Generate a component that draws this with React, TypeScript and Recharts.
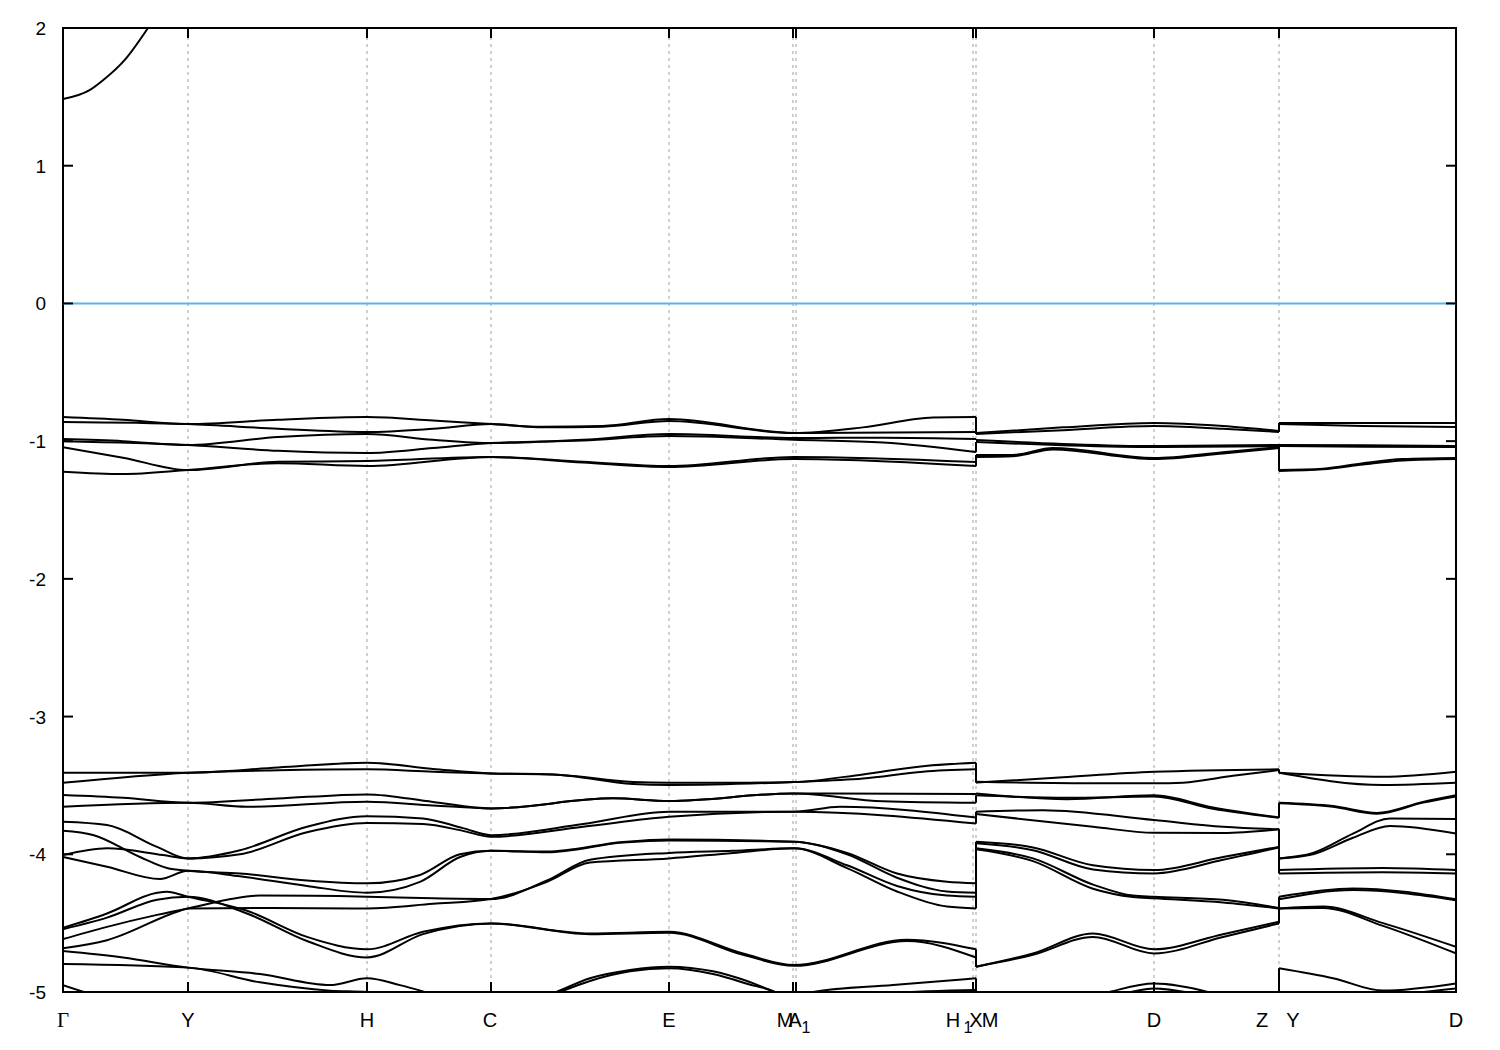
import { LineChart, Line, XAxis, YAxis, ReferenceLine, ReferenceArea } from 'recharts';

type Pt = [number, number];

// k-path (high symmetry points) and labels
const TICK_K = [0, 0.125, 0.304, 0.428, 0.606, 0.73, 0.733, 0.91, 0.913, 1.091, 1.216, 1.393];
const TICK_LABELS = ['Γ', 'Y', 'H', 'C', 'E', 'M_1', 'A', 'X', 'H_1|M', 'D', 'Z|Y', 'D'];
const Y_TICKS = [-5, -4, -3, -2, -1, 0, 1, 2];
const K_MAX = 1.393;

// conduction band near Γ
const conduction: Pt[][] = [
  [[0, 1.484], [0.027, 1.55], [0.04, 1.62], [0.062, 1.77], [0.085, 2.0]],
];

// block Γ–Y–H–C–E–M1–A–X–H1
const topA: Pt[][] = [
  [[0, -0.825], [0.06, -0.845], [0.125, -0.876], [0.215, -0.845], [0.304, -0.825], [0.37, -0.85], [0.428, -0.876], [0.48, -0.895], [0.54, -0.89], [0.606, -0.84], [0.731, -0.941], [0.8, -0.9], [0.87, -0.828], [0.913, -0.825]],
  [[0, -0.861], [0.125, -0.876], [0.215, -0.91], [0.304, -0.933], [0.37, -0.91], [0.428, -0.876], [0.48, -0.9], [0.54, -0.895], [0.606, -0.854], [0.731, -0.941], [0.913, -0.933]],
  [[0, -0.985], [0.06, -1.0], [0.125, -1.028], [0.215, -0.97], [0.304, -0.948], [0.37, -0.99], [0.428, -1.014], [0.52, -0.99], [0.606, -0.948], [0.731, -0.977], [0.82, -0.975], [0.913, -0.985]],
  [[0, -1.0], [0.125, -1.028], [0.215, -1.07], [0.304, -1.086], [0.37, -1.05], [0.428, -1.014], [0.52, -0.995], [0.606, -0.963], [0.731, -0.99], [0.82, -1.01], [0.913, -1.079]],
  [[0, -1.045], [0.06, -1.12], [0.125, -1.21], [0.215, -1.15], [0.304, -1.144], [0.428, -1.115], [0.52, -1.15], [0.606, -1.181], [0.731, -1.115], [0.913, -1.152]],
  [[0, -1.222], [0.06, -1.239], [0.125, -1.21], [0.215, -1.16], [0.304, -1.181], [0.428, -1.115], [0.52, -1.155], [0.606, -1.188], [0.731, -1.13], [0.913, -1.181]],
];

const lowA: Pt[][] = [
  [[0, -3.408], [0.125, -3.408], [0.215, -3.37], [0.304, -3.335], [0.37, -3.38], [0.428, -3.413], [0.49, -3.42], [0.57, -3.475], [0.606, -3.481], [0.67, -3.48], [0.731, -3.475], [0.8, -3.42], [0.86, -3.36], [0.913, -3.335]],
  [[0, -3.481], [0.125, -3.408], [0.215, -3.39], [0.304, -3.383], [0.37, -3.4], [0.428, -3.413], [0.49, -3.42], [0.57, -3.49], [0.606, -3.497], [0.731, -3.475], [0.8, -3.45], [0.86, -3.4], [0.913, -3.383]],
  [[0, -3.57], [0.06, -3.59], [0.125, -3.626], [0.215, -3.595], [0.304, -3.565], [0.37, -3.62], [0.428, -3.667], [0.55, -3.594], [0.606, -3.613], [0.731, -3.558], [0.913, -3.563]],
  [[0, -3.655], [0.125, -3.626], [0.184, -3.655], [0.304, -3.619], [0.37, -3.645], [0.428, -3.667], [0.55, -3.594], [0.606, -3.613], [0.731, -3.558], [0.82, -3.615], [0.913, -3.626]],
  [[0, -3.764], [0.044, -3.788], [0.094, -3.946], [0.125, -4.03], [0.177, -3.97], [0.244, -3.8], [0.304, -3.723], [0.36, -3.74], [0.4, -3.81], [0.428, -3.861], [0.52, -3.78], [0.606, -3.691], [0.731, -3.691], [0.777, -3.655], [0.913, -3.733]],
  [[0, -4.006], [0.044, -3.957], [0.1, -4.006], [0.125, -4.03], [0.177, -4.0], [0.244, -3.84], [0.304, -3.773], [0.36, -3.78], [0.4, -3.83], [0.428, -3.873], [0.52, -3.8], [0.606, -3.728], [0.731, -3.691], [0.913, -3.776]],
  [[0, -3.829], [0.03, -3.86], [0.077, -4.02], [0.104, -4.1], [0.125, -4.12], [0.177, -4.14], [0.244, -4.19], [0.304, -4.211], [0.357, -4.15], [0.397, -4.0], [0.428, -3.975], [0.484, -3.98], [0.56, -3.91], [0.606, -3.892], [0.731, -3.909], [0.784, -3.99], [0.834, -4.14], [0.884, -4.2], [0.913, -4.211]],
  [[0, -4.02], [0.044, -4.09], [0.097, -4.18], [0.125, -4.12], [0.177, -4.16], [0.244, -4.23], [0.304, -4.279], [0.357, -4.2], [0.397, -4.02], [0.428, -3.975], [0.484, -3.985], [0.56, -3.915], [0.606, -3.9], [0.731, -3.909], [0.784, -4.0], [0.834, -4.17], [0.884, -4.27], [0.913, -4.279]],
  [[0, -4.616], [0.044, -4.527], [0.094, -4.44], [0.125, -4.393], [0.197, -4.3], [0.304, -4.308], [0.37, -4.32], [0.428, -4.325], [0.484, -4.19], [0.527, -4.04], [0.606, -3.99], [0.67, -3.975], [0.731, -3.957], [0.784, -4.08], [0.834, -4.23], [0.884, -4.3], [0.913, -4.308]],
  [[0, -4.683], [0.044, -4.624], [0.117, -4.41], [0.125, -4.393], [0.197, -4.39], [0.304, -4.393], [0.37, -4.36], [0.428, -4.325], [0.484, -4.2], [0.527, -4.06], [0.606, -4.03], [0.67, -3.99], [0.731, -3.957], [0.784, -4.1], [0.834, -4.27], [0.884, -4.38], [0.913, -4.393]],
  [[0, -4.534], [0.044, -4.43], [0.094, -4.28], [0.104, -4.272], [0.125, -4.308], [0.184, -4.41], [0.244, -4.6], [0.304, -4.69], [0.36, -4.563], [0.428, -4.502], [0.527, -4.575], [0.606, -4.563], [0.68, -4.72], [0.731, -4.804], [0.844, -4.62], [0.913, -4.69]],
  [[0, -4.544], [0.044, -4.46], [0.094, -4.33], [0.125, -4.308], [0.184, -4.43], [0.244, -4.63], [0.304, -4.749], [0.36, -4.58], [0.428, -4.502], [0.527, -4.58], [0.606, -4.57], [0.68, -4.73], [0.731, -4.81], [0.844, -4.63], [0.913, -4.749]],
  [[0, -4.703], [0.06, -4.75], [0.125, -4.823], [0.197, -4.87], [0.267, -4.95], [0.304, -4.9], [0.337, -4.95], [0.367, -5.01], [0.428, -5.15], [0.49, -5.01], [0.527, -4.9], [0.567, -4.84], [0.606, -4.816], [0.65, -4.85], [0.684, -4.92], [0.717, -5.01], [0.731, -5.03], [0.75, -5.0], [0.83, -4.95], [0.913, -4.9]],
  [[0, -4.797], [0.125, -4.823], [0.197, -4.93], [0.267, -4.99], [0.304, -5.0], [0.36, -5.05], [0.428, -5.2], [0.49, -5.02], [0.527, -4.92], [0.567, -4.85], [0.606, -4.828], [0.65, -4.87], [0.684, -4.94], [0.717, -5.02], [0.731, -5.1], [0.8, -5.02], [0.913, -4.985]],
  [[0, -4.95], [0.03, -5.02], [0.125, -5.2]],
];

// block M–D–Z
const topB: Pt[][] = [
  [[0.913, -0.941], [1.0, -0.9], [1.091, -0.868], [1.16, -0.89], [1.216, -0.926]],
  [[0.913, -0.948], [1.0, -0.92], [1.091, -0.89], [1.16, -0.91], [1.216, -0.933]],
  [[0.913, -0.992], [1.0, -1.02], [1.091, -1.036], [1.216, -1.028]],
  [[0.913, -1.007], [1.0, -1.03], [1.091, -1.043], [1.216, -1.036]],
  [[0.913, -1.101], [0.95, -1.1], [0.99, -1.05], [1.091, -1.122], [1.16, -1.08], [1.216, -1.043]],
  [[0.913, -1.115], [0.95, -1.11], [0.99, -1.06], [1.091, -1.13], [1.16, -1.09], [1.216, -1.05]],
];

const lowB: Pt[][] = [
  [[0.913, -3.48], [1.0, -3.44], [1.091, -3.401], [1.216, -3.383]],
  [[0.913, -3.474], [1.037, -3.485], [1.091, -3.485], [1.12, -3.48], [1.17, -3.43], [1.216, -3.388]],
  [[0.913, -3.558], [1.004, -3.6], [1.091, -3.572], [1.15, -3.66], [1.216, -3.732]],
  [[0.913, -3.572], [1.004, -3.59], [1.091, -3.58], [1.15, -3.67], [1.216, -3.735]],
  [[0.913, -3.691], [0.98, -3.68], [1.091, -3.751], [1.16, -3.8], [1.216, -3.819]],
  [[0.913, -3.708], [1.03, -3.8], [1.091, -3.844], [1.16, -3.845], [1.216, -3.819]],
  [[0.913, -3.909], [0.97, -3.95], [1.03, -4.08], [1.091, -4.115], [1.16, -4.02], [1.216, -3.946]],
  [[0.913, -3.92], [0.97, -3.97], [1.03, -4.11], [1.091, -4.139], [1.16, -4.04], [1.216, -3.95]],
  [[0.913, -3.957], [0.97, -4.03], [1.03, -4.22], [1.07, -4.3], [1.091, -4.308], [1.16, -4.33], [1.216, -4.39]],
  [[0.913, -3.964], [0.97, -4.05], [1.03, -4.25], [1.07, -4.31], [1.091, -4.32], [1.16, -4.35], [1.216, -4.393]],
  [[0.913, -4.816], [0.97, -4.72], [1.03, -4.575], [1.091, -4.69], [1.16, -4.58], [1.216, -4.49]],
  [[0.913, -4.816], [0.97, -4.73], [1.03, -4.6], [1.091, -4.72], [1.16, -4.6], [1.216, -4.502]],
  [[0.913, -5.2], [1.04, -5.01], [1.091, -4.938], [1.15, -5.01], [1.216, -5.2]],
  [[0.913, -5.2], [1.06, -5.01], [1.091, -4.974], [1.13, -5.01], [1.216, -5.2]],
];

// block Y–D
const topC: Pt[][] = [
  [[1.216, -0.868], [1.3, -0.868], [1.393, -0.868]],
  [[1.216, -0.876], [1.3, -0.89], [1.393, -0.897]],
  [[1.216, -1.028], [1.3, -1.03], [1.393, -1.036]],
  [[1.216, -1.036], [1.3, -1.04], [1.393, -1.043]],
  [[1.216, -1.21], [1.26, -1.2], [1.3, -1.16], [1.34, -1.13], [1.393, -1.122]],
  [[1.216, -1.217], [1.26, -1.205], [1.3, -1.17], [1.34, -1.14], [1.393, -1.13]],
];

const lowC: Pt[][] = [
  [[1.216, -3.408], [1.32, -3.437], [1.393, -3.401]],
  [[1.216, -3.408], [1.32, -3.497], [1.393, -3.481]],
  [[1.216, -3.626], [1.27, -3.65], [1.314, -3.7], [1.36, -3.62], [1.393, -3.572]],
  [[1.216, -3.63], [1.27, -3.655], [1.314, -3.705], [1.36, -3.625], [1.393, -3.58]],
  [[1.216, -4.03], [1.25, -3.99], [1.29, -3.85], [1.327, -3.74], [1.393, -3.744]],
  [[1.216, -4.03], [1.25, -4.0], [1.29, -3.88], [1.327, -3.795], [1.393, -3.849]],
  [[1.216, -4.115], [1.32, -4.1], [1.393, -4.115]],
  [[1.216, -4.139], [1.32, -4.13], [1.393, -4.139]],
  [[1.216, -4.308], [1.29, -4.248], [1.393, -4.327]],
  [[1.216, -4.327], [1.29, -4.26], [1.393, -4.333]],
  [[1.216, -4.393], [1.26, -4.38], [1.32, -4.5], [1.393, -4.672]],
  [[1.216, -4.393], [1.26, -4.39], [1.32, -4.52], [1.393, -4.72]],
  [[1.216, -4.828], [1.27, -4.9], [1.32, -4.99], [1.393, -4.938]],
  [[1.216, -5.2], [1.35, -5.01], [1.393, -4.974]],
];

// label piece offsets (px from tick), one per piece of each label
const LABEL_DX = [[0], [0], [0], [-1], [0], [-8, 13], [-1], [3], [-23, -8, 14], [0], [-17, 14], [0]];

const SANS = '"Liberation Sans", Arial, Helvetica, sans-serif';
const SERIF = '"Liberation Serif", "Times New Roman", serif';
const BAND = '#000';
const BAND_W = 2;
const TICK_LEN_X = 0.01; // 10px in k units
const TICK_LEN_Y = 0.073; // 10px in energy units

const toRows = (pts: Pt[]) => pts.map(([k, e]) => ({ k, e }));

function labelPieces(label: string) {
  const out: { text: string; sub: boolean }[] = [];
  label.split('|').forEach((part) => {
    const [main, sub] = part.split('_');
    out.push({ text: main, sub: false });
    if (sub) out.push({ text: sub, sub: true });
  });
  return out;
}

function KTick(props: any) {
  const { x, y, index } = props;
  const pieces = labelPieces(TICK_LABELS[index]);
  const dxs = LABEL_DX[index] || [];
  return (
    <g>
      {pieces.map((p, i) => (
        <text
          key={i}
          x={x + (dxs[i] ?? 0)}
          y={y + 35 + (p.sub ? 6 : 0)}
          textAnchor="middle"
          fontFamily={TICK_LABELS[index] === 'Γ' ? SERIF : SANS}
          fontSize={p.sub ? 16 : TICK_LABELS[index] === 'Γ' ? 21 : 20}
          fill="#000"
        >
          {p.text}
        </text>
      ))}
    </g>
  );
}

function ETick(props: any) {
  const { x, y, payload } = props;
  return (
    <text x={x} y={y + 7} textAnchor="end" fontFamily={SANS} fontSize={19} fill="#000">
      {String(payload.value)}
    </text>
  );
}

function connectors(a: Pt[][], b: Pt[][]) {
  const n = Math.min(a.length, b.length);
  const res: { k: number; e: number }[][] = [];
  for (let i = 0; i < n; i++) {
    const end = a[i][a[i].length - 1];
    const start = b[i][0];
    res.push([
      { k: start[0], e: end[1] },
      { k: start[0], e: start[1] },
    ]);
  }
  return res;
}

export default function App() {
  const bands = [...conduction, ...topA, ...lowA, ...topB, ...lowB, ...topC, ...lowC];
  const joins = [
    ...connectors(topA, topB),
    ...connectors(lowA, lowB),
    ...connectors(topB, topC),
    ...connectors(lowB, lowC),
  ];
  const inner = TICK_K.slice(1, -1);

  return (
    <div style={{ width: 1500, height: 1050, background: '#fff' }}>
      <style>{'body{margin:0}'}</style>
      <LineChart width={1500} height={1050} margin={{ top: 28, right: 44, bottom: 18, left: 8 }}>
        <XAxis
          dataKey="k"
          type="number"
          domain={[0, K_MAX]}
          ticks={TICK_K}
          interval={0}
          allowDataOverflow
          axisLine={false}
          tickLine={false}
          tickSize={0}
          tickMargin={0}
          height={40}
          tick={<KTick />}
        />
        <YAxis
          type="number"
          domain={[-5, 2]}
          ticks={Y_TICKS}
          interval={0}
          allowDataOverflow
          axisLine={false}
          tickLine={false}
          tickSize={0}
          tickMargin={17}
          width={55}
          tick={<ETick />}
        />
        {inner.map((k, i) => (
          <ReferenceLine key={`g${i}`} x={k} stroke="#a0a0a0" strokeWidth={1} strokeDasharray="3 4" />
        ))}
        <ReferenceLine y={0} stroke="#56b4e9" strokeWidth={2} />
        {bands.map((b, i) => (
          <Line
            key={`b${i}`}
            data={toRows(b)}
            dataKey="e"
            type="monotone"
            stroke={BAND}
            strokeWidth={BAND_W}
            dot={false}
            activeDot={false}
            isAnimationActive={false}
          />
        ))}
        {joins.map((d, i) => (
          <Line
            key={`j${i}`}
            data={d}
            dataKey="e"
            type="linear"
            stroke={BAND}
            strokeWidth={BAND_W}
            dot={false}
            activeDot={false}
            isAnimationActive={false}
          />
        ))}
        {inner.map((k, i) => (
          <ReferenceLine key={`tb${i}`} segment={[{ x: k, y: -5 }, { x: k, y: -5 + TICK_LEN_Y }]} stroke="#000" strokeWidth={2} />
        ))}
        {inner.map((k, i) => (
          <ReferenceLine key={`tt${i}`} segment={[{ x: k, y: 2 }, { x: k, y: 2 - TICK_LEN_Y }]} stroke="#000" strokeWidth={2} />
        ))}
        {Y_TICKS.slice(1, -1).map((v, i) => (
          <ReferenceLine key={`tl${i}`} segment={[{ x: 0, y: v }, { x: TICK_LEN_X, y: v }]} stroke="#000" strokeWidth={2} />
        ))}
        {Y_TICKS.slice(1, -1).map((v, i) => (
          <ReferenceLine key={`tr${i}`} segment={[{ x: K_MAX, y: v }, { x: K_MAX - TICK_LEN_X, y: v }]} stroke="#000" strokeWidth={2} />
        ))}
        <ReferenceArea x1={0} x2={K_MAX} y1={-5} y2={2} fill="none" stroke="#000" strokeWidth={2} />
      </LineChart>
    </div>
  );
}
